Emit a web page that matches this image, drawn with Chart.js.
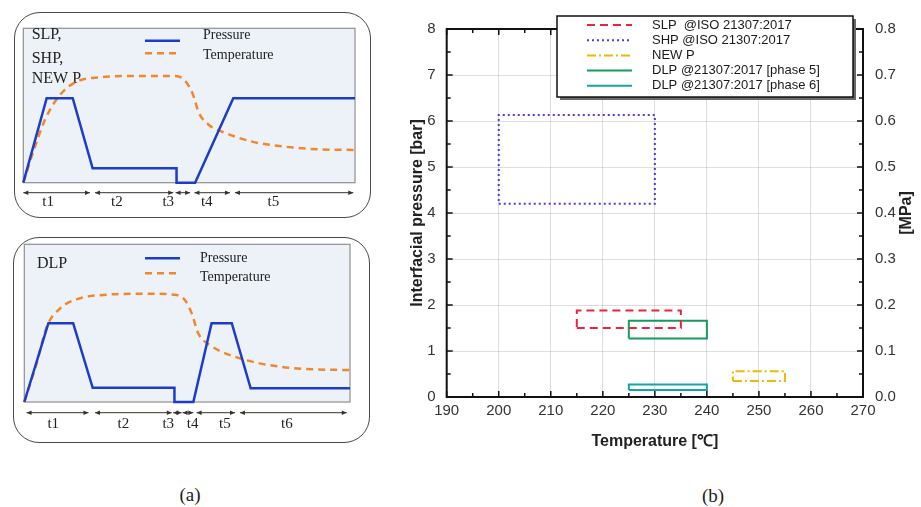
<!DOCTYPE html>
<html>
<head>
<meta charset="utf-8">
<script src="https://cdn.jsdelivr.net/npm/chart.js@4.4.1/dist/chart.umd.min.js"></script>
<style>
  html, body { margin: 0; padding: 0; background: #fff; }
  body { width: 921px; height: 507px; position: relative; overflow: hidden; font-family: "Liberation Serif", serif; }
  .box { position: absolute; border: 1.5px solid #4a4a4a; border-radius: 26px; box-sizing: border-box; }
  .wrap { position: absolute; }
  .cap { position: absolute; font-size: 19px; color: #222; transform: translate(-50%, -50%); }
</style>
</head>
<body>
<div class="box" style="left:14px;top:12px;width:357px;height:206px"></div>
<div class="box" style="left:13px;top:237px;width:357px;height:206px"></div>
<div class="wrap" style="left:12px;top:8px;width:362px;height:214px"><canvas id="chart-top"></canvas></div>
<div class="wrap" style="left:12px;top:230px;width:362px;height:216px"><canvas id="chart-bottom"></canvas></div>
<div class="wrap" style="left:395px;top:0;width:526px;height:470px"><canvas id="chart-range"></canvas></div>
<div class="cap" style="left:190px;top:495px">(a)</div>
<div class="cap" style="left:713px;top:496px">(b)</div>
<script>
// (a) schematics, time and level in % of the frame
const topTime = [0, 7.05, 14.9, 20.9, 46.2, 46.2, 51.8, 63.3, 100];
const topPressure = [0, 54.7, 54.7, 9.3, 9.3, 0, 0, 54.7, 54.7];
const topTempTime = [0, 3.5, 6.5, 8.9, 11.9, 16, 23, 33, 46, 49, 51, 53, 56, 60, 69, 79, 89, 100];
const topTemp = [0, 23.3, 40.6, 50.3, 58.9, 65.4, 68.3, 69.1, 69.1, 65.4, 57.9, 45, 37.4, 33, 26.6, 23.3, 21.6, 21.2];
const topTags = ['SLP,', 'SHP,', 'NEW P'];
const topPhases = ['t1', 't2', 't3', 't4', 't5'];
const topPhaseFrom = [0, 21.6, 45.9, 51.6, 63.8];
const topPhaseTo = [20.1, 45.2, 50.3, 62.3, 99.5];
const topPhaseMid = [7.5, 28.2, 43.7, 55.3, 75.4];

const bottomTime = [0, 7.4, 15, 21, 46.1, 46.1, 51.9, 57.5, 63.7, 69.5, 100];
const bottomPressure = [0, 50, 50, 9, 9, 0, 0, 50, 50, 8.7, 8.7];
const bottomTempTime = [0, 3.8, 6.9, 11, 17.1, 24.3, 33.5, 40, 46.8, 49.3, 51.4, 53.4, 57, 66.2, 78.5, 88.7, 100];
const bottomTemp = [0, 24.5, 47.7, 59.4, 65.8, 67.9, 68.6, 68.6, 67.8, 64.7, 56.2, 43.6, 36.1, 27.7, 22.4, 20.7, 20.3];
const bottomTags = ['DLP'];
const bottomPhases = ['t1', 't2', 't3', 't4', 't5', 't6'];
const bottomPhaseFrom = [0.7, 21.7, 45.7, 48.6, 52.9, 66.2];
const bottomPhaseTo = [19.7, 45.3, 48.3, 51.9, 64.7, 99];
const bottomPhaseMid = [8.9, 30.4, 44.2, 51.7, 61.6, 80.6];

// (b) process windows
const rangeLabels = ['SLP  @ISO 21307:2017', 'SHP @ISO 21307:2017', 'NEW P', 'DLP @21307:2017 [phase 5]', 'DLP @21307:2017 [phase 6]'];
const tempMin = [215, 200, 245, 225, 225];
const tempMax = [235, 230, 255, 240, 240];
const presMin = [1.5, 4.2, 0.35, 1.27, 0.15];
const presMax = [1.88, 6.13, 0.56, 1.66, 0.27];

const rangeColors = ['#ec2340', '#4a3fd6', '#f2b705', '#179a5e', '#14a3a6'];
const rangeDashes = [[8, 5], [2, 3], [9, 3, 2, 3], [], []];

const BLUE = '#1c3cc9';
const ORANGE = '#f0872a';
const SERIF = '"Liberation Serif", "Times New Roman", serif';
const SANS = '"Liberation Sans", Arial, sans-serif';

function head(ctx, x, y, dir) {
    ctx.beginPath();
    ctx.moveTo(x, y);
    ctx.lineTo(x + dir * 5, y - 2.2);
    ctx.lineTo(x + dir * 5, y + 2.2);
    ctx.closePath();
    ctx.fill();
}

const schematicPlugin = {
    id: 'schematic',
    beforeDatasetsDraw(chart, args, o) {
        const { ctx, chartArea: a } = chart;
        ctx.save();
        ctx.fillStyle = '#edf2f9';
        ctx.fillRect(a.left, a.top, a.width, a.height);
        ctx.strokeStyle = '#8f8f8f';
        ctx.lineWidth = 1.2;
        ctx.strokeRect(a.left, a.top, a.width, a.height);

        ctx.fillStyle = '#222';
        ctx.textBaseline = 'middle';
        ctx.font = '16px ' + SERIF;
        o.tags.forEach((t, i) => ctx.fillText(t, a.left + o.tagX, a.top + o.tagY[i]));

        // legend
        ctx.font = '14px ' + SERIF;
        chart.data.datasets.forEach((ds, i) => {
            const y = a.top + o.legendY[i];
            ctx.strokeStyle = ds.borderColor;
            ctx.lineWidth = 2.5;
            ctx.setLineDash(ds.borderDash || []);
            ctx.beginPath();
            ctx.moveTo(a.left + o.legendX, y);
            ctx.lineTo(a.left + o.legendX + 35, y);
            ctx.stroke();
            ctx.setLineDash([]);
            ctx.fillText(ds.label, a.left + o.legendTextX, a.top + o.legendTextY[i]);
        });
        ctx.restore();
    },
    afterDatasetsDraw(chart, args, o) {
        const { ctx, chartArea: a, scales: { x } } = chart;
        ctx.save();
        const y = a.bottom + o.arrowY;
        ctx.strokeStyle = '#333';
        ctx.fillStyle = '#333';
        ctx.lineWidth = 1;
        o.phaseFrom.forEach((f, i) => {
            const x1 = x.getPixelForValue(f);
            const x2 = x.getPixelForValue(o.phaseTo[i]);
            ctx.beginPath();
            ctx.moveTo(x1, y);
            ctx.lineTo(x2, y);
            ctx.stroke();
            head(ctx, x1, y, 1);
            head(ctx, x2, y, -1);
        });
        ctx.fillStyle = '#222';
        ctx.font = '15px ' + SERIF;
        ctx.textAlign = 'center';
        ctx.textBaseline = 'middle';
        o.phases.forEach((p, i) => ctx.fillText(p, x.getPixelForValue(o.phaseMid[i]), a.bottom + o.labelY));
        ctx.restore();
    },
};

const pts = (xs, ys) => xs.map((v, i) => ({ x: v, y: ys[i] }));

function schematic(id, time, pressure, tTime, temp, opts) {
    return new Chart(document.getElementById(id), {
        type: 'line',
        data: {
            datasets: [
                { label: 'Pressure', data: pts(time, pressure), borderColor: BLUE, borderWidth: 2.5, pointRadius: 0, tension: 0, clip: false },
                { label: 'Temperature', data: pts(tTime, temp), borderColor: ORANGE, borderDash: [7, 5], borderWidth: 2.5, pointRadius: 0, cubicInterpolationMode: 'monotone', clip: false },
            ],
        },
        options: {
            responsive: true,
            maintainAspectRatio: false,
            animation: false,
            layout: { padding: opts.padding },
            scales: {
                x: { type: 'linear', min: 0, max: 100, display: false },
                y: { min: 0, max: 100, display: false },
            },
            plugins: { legend: { display: false }, tooltip: { enabled: false }, schematic: opts },
        },
        plugins: [schematicPlugin],
    });
}

schematic('chart-top', topTime, topPressure, topTempTime, topTemp, {
    padding: { left: 11.3, top: 20.3, right: 19, bottom: 39.3 },
    tags: topTags, tagX: 8.4, tagY: [6.7, 30, 50.7],
    legendX: 121.7, legendY: [12.4, 25], legendTextX: 179.7, legendTextY: [6.7, 26.7],
    phases: topPhases, phaseFrom: topPhaseFrom, phaseTo: topPhaseTo, phaseMid: topPhaseMid,
    arrowY: 10, labelY: 19.5,
});

schematic('chart-bottom', bottomTime, bottomPressure, bottomTempTime, bottomTemp, {
    padding: { left: 12.3, top: 14.3, right: 24, bottom: 44 },
    tags: bottomTags, tagX: 12.7, tagY: [19.7],
    legendX: 120.7, legendY: [14, 29], legendTextX: 175.7, legendTextY: [14, 33],
    phases: bottomPhases, phaseFrom: bottomPhaseFrom, phaseTo: bottomPhaseTo, phaseMid: bottomPhaseMid,
    arrowY: 10.7, labelY: 22,
});

// (b) frame, inward ticks, MPa title and boxed legend
const framePlugin = {
    id: 'frame',
    afterDatasetsDraw(chart) {
        const { ctx, chartArea: a, scales: { x, y } } = chart;
        ctx.save();
        ctx.strokeStyle = '#111';
        ctx.lineWidth = 1.5;
        ctx.beginPath();
        for (let v = x.min; v <= x.max; v += 5) {
            const px = x.getPixelForValue(v);
            const len = v % 10 === 0 ? 6 : 4;
            ctx.moveTo(px, a.bottom); ctx.lineTo(px, a.bottom - len);
            ctx.moveTo(px, a.top); ctx.lineTo(px, a.top + len);
        }
        for (let v = y.min; v <= y.max; v += 0.5) {
            const py = y.getPixelForValue(v);
            const len = v % 1 === 0 ? 6 : 4;
            ctx.moveTo(a.left, py); ctx.lineTo(a.left + len, py);
            ctx.moveTo(a.right, py); ctx.lineTo(a.right - len, py);
        }
        ctx.stroke();
        ctx.lineWidth = 2;
        ctx.strokeRect(a.left, a.top, a.width, a.height);

        // right axis title
        ctx.fillStyle = '#222';
        ctx.font = 'bold 16px ' + SANS;
        ctx.textAlign = 'center';
        ctx.textBaseline = 'middle';
        ctx.translate(a.right + 44, (a.top + a.bottom) / 2);
        ctx.rotate(-Math.PI / 2);
        ctx.fillText('[MPa]', 0, 0);
        ctx.restore();

        // legend box
        ctx.save();
        const lx = a.left + 110.3, ly = 16, lw = 296, lh = 81;
        ctx.fillStyle = '#6a6a6a';
        ctx.fillRect(lx + 3, ly + 3, lw, lh);
        ctx.fillStyle = '#fff';
        ctx.fillRect(lx, ly, lw, lh);
        ctx.strokeStyle = '#111';
        ctx.lineWidth = 1.5;
        ctx.strokeRect(lx, ly, lw, lh);
        ctx.font = '13px ' + SANS;
        ctx.textBaseline = 'middle';
        chart.data.datasets.forEach((ds, i) => {
            const ry = ly + 9 + i * 15.2;
            ctx.strokeStyle = ds.borderColor;
            ctx.lineWidth = ds.borderWidth;
            ctx.setLineDash(ds.borderDash);
            ctx.beginPath();
            ctx.moveTo(lx + 30, ry);
            ctx.lineTo(lx + 75, ry);
            ctx.stroke();
            ctx.setLineDash([]);
            ctx.fillStyle = '#1a1a1a';
            ctx.fillText(ds.label, lx + 95, ry);
        });
        ctx.restore();
    },
};

const tickFont = { family: SANS, size: 15 };
const titleFont = { family: SANS, size: 16, weight: 'bold' };

new Chart(document.getElementById('chart-range'), {
    type: 'scatter',
    data: {
        datasets: rangeLabels.map((label, i) => ({
            label,
            data: [
                { x: tempMin[i], y: presMin[i] },
                { x: tempMax[i], y: presMin[i] },
                { x: tempMax[i], y: presMax[i] },
                { x: tempMin[i], y: presMax[i] },
                { x: tempMin[i], y: presMin[i] },
            ],
            showLine: true,
            borderColor: rangeColors[i],
            borderDash: rangeDashes[i],
            borderWidth: 2,
            pointRadius: 0,
            fill: false,
            tension: 0,
        })),
    },
    options: {
        responsive: true,
        maintainAspectRatio: false,
        animation: false,
        layout: { padding: { left: 13.4, top: 29, right: 4.7, bottom: 18.4 } },
        scales: {
            x: {
                type: 'linear',
                min: 190,
                max: 270,
                ticks: { stepSize: 10, font: tickFont, color: '#333', padding: 5 },
                grid: { color: 'rgba(0,0,0,0.13)', drawTicks: false },
                border: { display: false },
                title: { display: true, text: 'Temperature [℃]', font: titleFont, color: '#222', padding: 0 },
                afterFit: (s) => { s.height = 54.6; },
            },
            y: {
                position: 'left',
                min: 0,
                max: 8,
                ticks: { stepSize: 1, font: tickFont, color: '#333', padding: 11 },
                grid: { color: 'rgba(0,0,0,0.13)', drawTicks: false },
                border: { display: false },
                title: { display: true, text: 'Interfacial pressure [bar]', font: titleFont, color: '#222', padding: 0 },
                afterFit: (s) => { s.width = 38.3; },
            },
            y1: {
                position: 'right',
                min: 0,
                max: 0.8,
                ticks: { stepSize: 0.1, font: tickFont, color: '#333', padding: 12, callback: (v) => v.toFixed(1) },
                grid: { display: false, drawTicks: false },
                border: { display: false },
                afterFit: (s) => { s.width = 53.3; },
            },
        },
        plugins: { legend: { display: false }, tooltip: { enabled: false } },
    },
    plugins: [framePlugin],
});
</script>
</body>
</html>
